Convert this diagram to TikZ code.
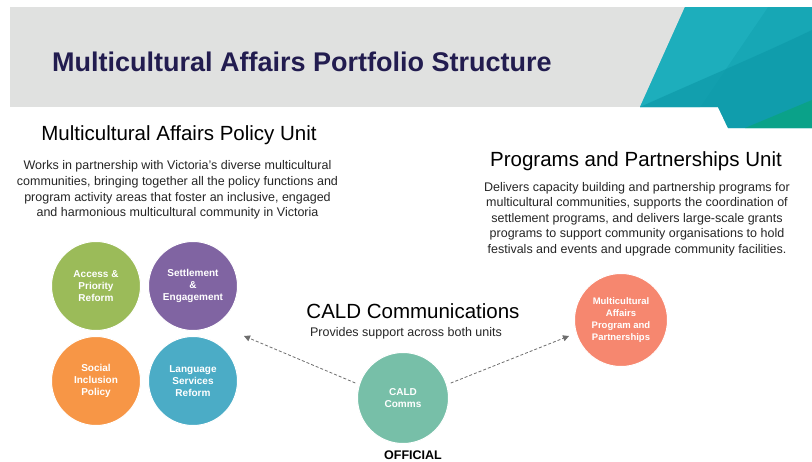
\documentclass[tikz,border=0pt]{standalone}
\usepackage{fontspec}
\setmainfont{Liberation Sans}
\usetikzlibrary{arrows.meta}
\definecolor{titlenavy}{HTML}{221C4F}
\definecolor{bandgray}{HTML}{E0E1E0}
\definecolor{tealA}{HTML}{17A7B5}
\definecolor{tealB}{HTML}{0E9AA9}
\definecolor{tealC}{HTML}{22B3C2}
\definecolor{tealGreen}{HTML}{0AA383}
\definecolor{cGreen}{HTML}{9BBB59}
\definecolor{cPurple}{HTML}{8064A2}
\definecolor{cOrange}{HTML}{F79646}
\definecolor{cBlue}{HTML}{4BACC6}
\definecolor{cMint}{HTML}{77BFA8}
\definecolor{cSalmon}{HTML}{F6876F}
\definecolor{bodytext}{HTML}{262626}
\definecolor{linkgray}{HTML}{6E6E6E}
\begin{document}
\begin{tikzpicture}[x=1pt,y=-1pt,
  unit/.style={circle,minimum size=89pt,inner sep=0pt,draw=white,line width=1pt,
    text=white,font=\bfseries\fontsize{10}{12.2}\selectfont,align=center},
  heading/.style={font=\fontsize{20.5}{24}\selectfont,text=black,inner sep=0pt},
  para/.style={font=\fontsize{12.5}{15.6}\selectfont,text=bodytext,align=center,inner sep=0pt},
  link/.style={densely dashed,draw=linkgray,line width=0.8pt,
    -{Triangle[length=6pt,width=6pt]},shorten <=4pt}]
\useasboundingbox (0,0) rectangle (812,461);
\fill[white] (0,0) rectangle (812,461);

% banner
\fill[bandgray] (10,7) rectangle (812,107);
\fill[tealA] (685,7) -- (812,7) -- (812,128) -- (728,128) -- (718,107) -- (640,107) -- cycle;
\fill[tealC,opacity=0.6] (685,7) -- (768,7) -- (700,107) -- (640,107) -- cycle;
\fill[tealB,opacity=0.7] (640,107) .. controls (700,80) and (760,55) .. (812,30)
  -- (812,128) -- (728,128) -- (718,107) -- cycle;
\fill[tealGreen,opacity=0.85] (745,128) -- (812,100) -- (812,128) -- cycle;
\node[anchor=west,inner sep=0pt,text=titlenavy,font=\bfseries\fontsize{27}{31}\selectfont]
  (title) at (52,62) {Multicultural Affairs Portfolio Structure};

% policy unit
\node[heading] (policyhead) at (179,135) {Multicultural Affairs Policy Unit};
\node[para] (policytext) at (177.5,190) {Works in partnership with Victoria's diverse multicultural\\
communities, bringing together all the policy functions and\\
program activity areas that foster an inclusive, engaged\\
and harmonious multicultural community in Victoria};

\node[unit,fill=cGreen] (access) at (96,286) {Access \&\\Priority\\Reform};
\node[unit,fill=cPurple] (settle) at (193,286) {Settlement\\\&\\Engagement};
\node[unit,fill=cOrange] (social) at (96,381) {Social\\Inclusion\\Policy};
\node[unit,fill=cBlue] (lang) at (193,381) {Language\\Services\\Reform};

% programs unit
\node[heading] (proghead) at (636,161) {Programs and Partnerships Unit};
\node[para] (progtext) at (637,219) {Delivers capacity building and partnership programs for\\
multicultural communities, supports the coordination of\\
settlement programs, and delivers large-scale grants\\
programs to support community organisations to hold\\
festivals and events and upgrade community facilities.};
\node[unit,fill=cSalmon,minimum size=93pt,font=\bfseries\fontsize{9.5}{12}\selectfont] (maprog) at (621,320) {Multicultural\\Affairs\\Program and\\Partnerships};

% communications
\node[heading] (caldhead) at (413,311) {CALD Communications};
\node[para] (caldtext) at (406,333) {Provides support across both units};
\node[unit,fill=cMint,minimum size=91pt] (cald) at (403,398) {CALD\\Comms};

\coordinate (leftend) at (244,336);
\coordinate (rightend) at (569,336);
\draw[link] (cald.163) -- (leftend);
\draw[link] (cald.17) -- (rightend);

\node[inner sep=0pt,font=\bfseries\fontsize{12.5}{14}\selectfont] (official) at (413,455) {OFFICIAL};
\end{tikzpicture}
\end{document}
